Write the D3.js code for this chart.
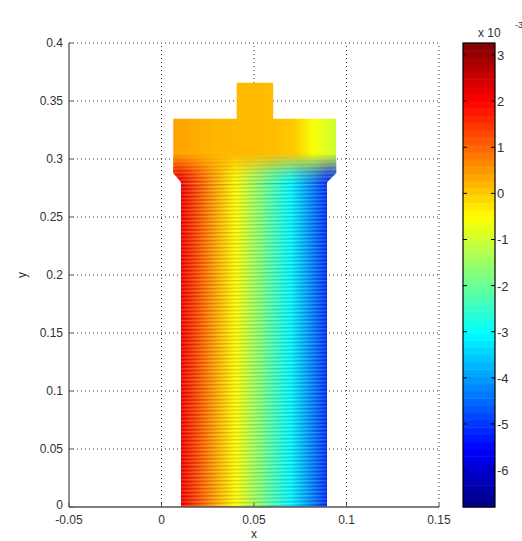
<!DOCTYPE html>
<html>
<head>
<meta charset="utf-8">
<script src="https://cdn.jsdelivr.net/npm/d3@7"></script>
<style>
body { margin: 0; background: #fff; }
text { font-family: "Liberation Sans", Arial, sans-serif; font-size: 12px; fill: #333; }
</style>
</head>
<body>
<div id="chart"></div>
<script>
var w = 522, h = 541;

// axis ticks
var xTicks = [-0.05, 0, 0.05, 0.1, 0.15];
var yTicks = [0, 0.05, 0.1, 0.15, 0.2, 0.25, 0.3, 0.35, 0.4];
var cTicks = [3, 2, 1, 0, -1, -2, -3, -4, -5, -6];
var cDomain = [-6.8, 3.26];

// outline of the part (stem + head + knob)
var bodyX = [0.0105, 0.0895, 0.0895, 0.0945, 0.0945, 0.0605, 0.0605, 0.0405, 0.0405, 0.0063, 0.0063, 0.0105];
var bodyY = [0, 0, 0.28, 0.288, 0.335, 0.335, 0.366, 0.366, 0.335, 0.335, 0.288, 0.28];

// field values across the stem (read along x)
var stemX = [0.0105, 0.02, 0.03, 0.04, 0.05, 0.06, 0.07, 0.08, 0.0895];
var stemV = [2.1, 1.2, 0.3, -0.5, -1.4, -2.3, -3.1, -4.1, -5.1];

// field values across the head
var headX = [0.0063, 0.03, 0.06, 0.072, 0.082, 0.0945];
var headV = [0.4, 0.2, 0.15, 0.0, -0.6, -1.0];

// top of the stem where it blends into the head
var blendY = [0.279, 0.305];

function clamp(a) { return Math.max(0, Math.min(1, a)); }
function jet(t) {
  var r = clamp(Math.min(4 * t - 1.5, -4 * t + 4.5));
  var g = clamp(Math.min(4 * t - 0.5, -4 * t + 3.5));
  var b = clamp(Math.min(4 * t + 0.5, -4 * t + 2.5));
  return d3.rgb(r * 255, g * 255, b * 255).formatHex();
}

var x = d3.scaleLinear().domain([-0.05, 0.15]).range([69, 439]);
var y = d3.scaleLinear().domain([0, 0.4]).range([507, 43]);
var cNorm = d3.scaleLinear().domain(cDomain).range([0, 1]).clamp(true);
var color = function (v) { return jet(cNorm(v)); };

var svg = d3.select("#chart").append("svg")
  .attr("width", w)
  .attr("height", h);

var defs = svg.append("defs");

// grid (under the data)
svg.append("g").selectAll("line")
  .data(xTicks.slice(1))
  .enter().append("line")
  .attr("x1", function (d) { return x(d); })
  .attr("x2", function (d) { return x(d); })
  .attr("y1", y(0))
  .attr("y2", y(0.4))
  .attr("stroke", "#333")
  .attr("stroke-dasharray", "1,3");
svg.append("g").selectAll("line")
  .data(yTicks.slice(1))
  .enter().append("line")
  .attr("x1", x(-0.05))
  .attr("x2", x(0.15))
  .attr("y1", function (d) { return y(d); })
  .attr("y2", function (d) { return y(d); })
  .attr("stroke", "#333")
  .attr("stroke-dasharray", "1,3");

// gradients
function addGrad(id, xs, vs) {
  var x0 = x(d3.min(xs)), x1 = x(d3.max(xs));
  var g = defs.append("linearGradient")
    .attr("id", id)
    .attr("gradientUnits", "userSpaceOnUse")
    .attr("x1", x0).attr("x2", x1).attr("y1", 0).attr("y2", 0);
  g.selectAll("stop")
    .data(xs)
    .enter().append("stop")
    .attr("offset", function (d) { return (x(d) - x0) / (x1 - x0); })
    .attr("stop-color", function (d, i) { return color(vs[i]); });
}
addGrad("stemGrad", stemX, stemV);
addGrad("headGrad", headX, headV);

var fade = defs.append("linearGradient")
  .attr("id", "fadeGrad")
  .attr("gradientUnits", "userSpaceOnUse")
  .attr("x1", 0).attr("x2", 0)
  .attr("y1", y(blendY[0])).attr("y2", y(blendY[1]));
fade.append("stop").attr("offset", 0).attr("stop-color", "#fff").attr("stop-opacity", 1);
fade.append("stop").attr("offset", 0.35).attr("stop-color", "#fff").attr("stop-opacity", 0.8);
fade.append("stop").attr("offset", 1).attr("stop-color", "#fff").attr("stop-opacity", 0);

var mask = defs.append("mask").attr("id", "fadeMask");
mask.append("rect")
  .attr("x", x(0)).attr("width", x(0.1) - x(0))
  .attr("y", y(blendY[1])).attr("height", y(blendY[0]) - y(blendY[1]) + 2)
  .attr("fill", "url(#fadeGrad)");

// streak texture
var pat = defs.append("pattern")
  .attr("id", "streaks")
  .attr("patternUnits", "userSpaceOnUse")
  .attr("width", 40).attr("height", 3.7)
  .attr("patternTransform", "rotate(-1.2)");
pat.append("rect").attr("width", 40).attr("height", 1.3).attr("fill", "#000").attr("opacity", 0.15);
pat.append("rect").attr("y", 1.9).attr("width", 40).attr("height", 1.2).attr("fill", "#fff").attr("opacity", 0.18);

var outline = d3.line()
  .x(function (d) { return x(bodyX[d]); })
  .y(function (d) { return y(bodyY[d]); });
var idx = d3.range(bodyX.length);

defs.append("clipPath").attr("id", "bodyClip")
  .append("path").attr("d", outline(idx) + "Z");

var body = svg.append("g").attr("clip-path", "url(#bodyClip)");

// head
body.append("path")
  .attr("d", outline(idx) + "Z")
  .attr("fill", "url(#headGrad)");

// stem
body.append("rect")
  .attr("x", x(stemX[0]))
  .attr("width", x(stemX[stemX.length - 1]) - x(stemX[0]))
  .attr("y", y(blendY[0]))
  .attr("height", y(0) - y(blendY[0]))
  .attr("fill", "url(#stemGrad)");

// stem colours bleeding into the bottom of the head
var blend = body.append("g").attr("mask", "url(#fadeMask)");
blend.append("rect")
  .attr("x", x(0))
  .attr("width", x(0.1) - x(0))
  .attr("y", y(blendY[1]))
  .attr("height", y(blendY[0]) - y(blendY[1]) + 1)
  .attr("fill", "url(#stemGrad)");
blend.append("rect")
  .attr("x", x(0))
  .attr("width", x(0.1) - x(0))
  .attr("y", y(blendY[1]))
  .attr("height", y(blendY[0]) - y(blendY[1]) + 1)
  .attr("fill", "url(#streaks)");

// streaks on the stem
body.append("rect")
  .attr("x", x(stemX[0]))
  .attr("width", x(stemX[stemX.length - 1]) - x(stemX[0]))
  .attr("y", y(blendY[0]))
  .attr("height", y(0) - y(blendY[0]))
  .attr("fill", "url(#streaks)");

// axes
var axisColor = "#555";
svg.append("line")
  .attr("x1", x(-0.05)).attr("x2", x(-0.05))
  .attr("y1", y(0)).attr("y2", y(0.4))
  .attr("stroke", axisColor).attr("stroke-width", 1.3);
svg.append("line")
  .attr("x1", x(-0.05)).attr("x2", x(0.15))
  .attr("y1", y(0)).attr("y2", y(0))
  .attr("stroke", axisColor).attr("stroke-width", 1.3);

svg.append("g").selectAll("line")
  .data(yTicks)
  .enter().append("line")
  .attr("x1", x(-0.05)).attr("x2", x(-0.05) + 4)
  .attr("y1", function (d) { return y(d); })
  .attr("y2", function (d) { return y(d); })
  .attr("stroke", axisColor);
svg.append("g").selectAll("line")
  .data(xTicks)
  .enter().append("line")
  .attr("x1", function (d) { return x(d); })
  .attr("x2", function (d) { return x(d); })
  .attr("y1", y(0)).attr("y2", y(0) - 4)
  .attr("stroke", axisColor);

svg.append("g").selectAll("text")
  .data(yTicks)
  .enter().append("text")
  .attr("x", x(-0.05) - 6)
  .attr("y", function (d) { return d === 0 ? y(d) + 2 : y(d) + 4; })
  .attr("text-anchor", "end")
  .text(function (d) { return String(d); });
svg.append("g").selectAll("text")
  .data(xTicks)
  .enter().append("text")
  .attr("x", function (d) { return x(d); })
  .attr("y", y(0) + 17)
  .attr("text-anchor", "middle")
  .text(function (d) { return String(d); });

svg.append("text")
  .attr("x", x(0.05))
  .attr("y", 538)
  .attr("text-anchor", "middle")
  .text("x");
svg.append("text")
  .attr("transform", "translate(26," + y(0.2) + ") rotate(-90)")
  .attr("text-anchor", "middle")
  .text("y");

// colorbar
var cb = { x: 463, w: 32 };
var c = d3.scaleLinear().domain(cDomain).range([y(0), y(0.4)]);
var levels = d3.range(64);
var levelV = levels.map(function (i) { return cDomain[0] + (cDomain[1] - cDomain[0]) * i / 64; });
var step = (cDomain[1] - cDomain[0]) / 64;

svg.append("g").selectAll("rect")
  .data(levels)
  .enter().append("rect")
  .attr("x", cb.x)
  .attr("width", cb.w)
  .attr("y", function (d) { return c(levelV[d] + step); })
  .attr("height", function (d) { return c(levelV[d]) - c(levelV[d] + step) + 0.5; })
  .attr("fill", function (d) { return jet((d + 0.5) / 64); });

svg.append("rect")
  .attr("x", cb.x).attr("width", cb.w)
  .attr("y", c(cDomain[1])).attr("height", c(cDomain[0]) - c(cDomain[1]))
  .attr("fill", "none").attr("stroke", "#000").attr("stroke-width", 1.2);

svg.append("g").selectAll("line")
  .data(cTicks)
  .enter().append("line")
  .attr("x1", cb.x).attr("x2", cb.x + 4)
  .attr("y1", function (d) { return c(d); })
  .attr("y2", function (d) { return c(d); })
  .attr("stroke", "#000");
svg.append("g").selectAll("line")
  .data(cTicks)
  .enter().append("line")
  .attr("x1", cb.x + cb.w - 4).attr("x2", cb.x + cb.w)
  .attr("y1", function (d) { return c(d); })
  .attr("y2", function (d) { return c(d); })
  .attr("stroke", "#000");
svg.append("g").selectAll("text")
  .data(cTicks)
  .enter().append("text")
  .attr("x", cb.x + cb.w + 2)
  .attr("y", function (d) { return c(d) + 5; })
  .style("font-size", "13px")
  .text(function (d) { return String(d); });

svg.append("text")
  .attr("x", 478).attr("y", 37)
  .text("x 10");
svg.append("text")
  .attr("x", 515).attr("y", 28)
  .style("font-size", "9px")
  .text("-3");
</script>
</body>
</html>
